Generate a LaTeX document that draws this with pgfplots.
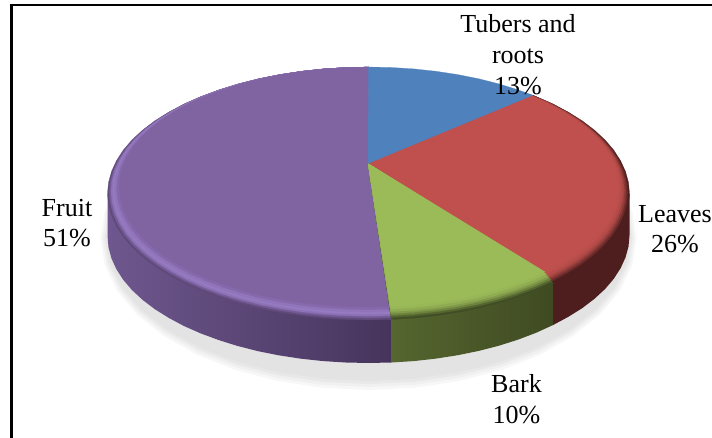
\documentclass[border=0pt]{standalone}
\usepackage{fontspec}
\setmainfont{Liberation Serif}
\usepackage{pgfplots}
\usepackage{pgfplotstable}
\pgfplotsset{compat=1.18}

% all coordinates are pixels of the picture, y pointing down
% r=1 marks a rim point, r=0 the apex of the wedge
\pgfplotstableread{
x y r
368.0 163.5 0
368.5 67.0 1
391.3 67.5 1
413.8 68.9 1
436.1 71.3 1
457.8 74.6 1
478.8 78.8 1
499.0 83.9 1
518.2 89.9 1
532.8 95.2 1
368.0 163.5 0
}\tblBlue
\pgfplotstableread{
x y r
368.0 163.5 0
532.8 95.2 1
536.3 96.6 1
553.1 104.0 1
568.4 112.2 1
582.3 120.9 1
594.5 130.2 1
605.1 140.0 1
613.8 150.2 1
620.6 160.8 1
625.5 171.5 1
628.5 182.5 1
629.5 193.5 1
628.5 204.5 1
625.5 215.5 1
620.6 226.2 1
613.8 236.8 1
605.1 247.0 1
594.5 256.8 1
582.3 266.1 1
568.4 274.8 1
553.1 283.0 1
368.0 163.5 0
}\tblRed
\pgfplotstableread{
x y r
368.0 163.5 0
553.1 283.0 1
536.3 290.4 1
518.2 297.1 1
499.0 303.1 1
478.8 308.2 1
457.8 312.4 1
436.1 315.7 1
413.8 318.1 1
391.3 319.5 1
368.0 163.5 0
}\tblGreen
\pgfplotstableread{
x y r
368.0 163.5 0
391.3 319.5 1
368.5 320.0 1
345.7 319.5 1
323.2 318.1 1
300.9 315.7 1
279.2 312.4 1
258.2 308.2 1
238.0 303.1 1
218.8 297.1 1
200.7 290.4 1
183.9 283.0 1
168.6 274.8 1
154.7 266.1 1
142.5 256.8 1
131.9 247.0 1
123.2 236.8 1
116.4 226.2 1
111.5 215.5 1
108.5 204.5 1
107.5 193.5 1
108.5 182.5 1
111.5 171.5 1
116.4 160.8 1
123.2 150.2 1
131.9 140.0 1
142.5 130.2 1
154.7 120.9 1
168.6 112.2 1
183.9 104.0 1
200.7 96.6 1
218.8 89.9 1
238.0 83.9 1
258.2 78.8 1
279.2 74.6 1
300.9 71.3 1
323.2 68.9 1
345.7 67.5 1
368.5 67.0 1
368.0 163.5 0
}\tblPurple

% outline used for the shadow
\pgfplotstableread{
x y
629.5 193.5
625.5 215.5
613.8 236.8
594.5 256.8
568.4 274.8
536.3 290.4
499.0 303.1
457.8 312.4
413.8 318.1
368.5 320.0
323.2 318.1
279.2 312.4
238.0 303.1
200.7 290.4
168.6 274.8
142.5 256.8
123.2 236.8
111.5 215.5
107.5 193.5
111.5 171.5
123.2 150.2
142.5 130.2
168.6 112.2
200.7 96.6
238.0 83.9
279.2 74.6
323.2 68.9
368.5 67.0
413.8 68.9
457.8 74.6
499.0 83.9
536.3 96.6
568.4 112.2
594.5 130.2
613.8 150.2
625.5 171.5
629.5 193.5
}\tblRim

% side walls
\pgfplotstableread{
x y
107.5 193.5
107.5 235.5
108.5 247.5
111.5 258.5
116.4 269.2
123.2 279.8
131.9 290.0
142.5 299.8
154.7 309.1
168.6 317.8
183.9 326.0
200.7 333.4
218.8 340.1
238.0 346.1
258.2 351.2
279.2 355.4
300.9 358.7
323.2 361.1
345.7 362.5
368.5 363.0
391.3 362.5
391.3 319.5
}\tblSidePurple
\pgfplotstableread{
x y
391.3 319.5
391.3 362.5
413.8 361.1
436.1 358.6
457.8 355.2
478.8 350.9
499.0 345.7
518.2 339.6
536.3 332.7
553.1 325.0
553.1 283.0
}\tblSideGreen
\pgfplotstableread{
x y
553.1 283.0
553.1 325.0
568.4 316.8
582.3 308.1
594.5 298.8
605.1 289.0
613.8 278.8
620.6 268.2
625.5 257.5
628.5 246.5
629.5 235.5
629.5 193.5
}\tblSideRed

\definecolor{pBlue}{HTML}{4F81BD}
\definecolor{pRed}{HTML}{C0504D}
\definecolor{pGreen}{HTML}{9BBB59}
\definecolor{pPurple}{HTML}{8064A2}
\definecolor{pPurpleA}{HTML}{5F4A7A}
\definecolor{pPurpleB}{HTML}{755C98}
\definecolor{pPurpleC}{HTML}{8E72B6}
\definecolor{pPurpleD}{HTML}{977BC2}
\definecolor{pPurpleE}{HTML}{9175BA}
\definecolor{pPurpleF}{HTML}{8669AC}
\definecolor{pRedA}{HTML}{4E1E1E}
\definecolor{pRedB}{HTML}{6A2B2A}
\definecolor{pRedC}{HTML}{8A3937}
\definecolor{pRedD}{HTML}{A44542}
\definecolor{pRedE}{HTML}{B54C49}
\definecolor{pRedF}{HTML}{BD4F4C}
\definecolor{pGreenA}{HTML}{414D25}
\definecolor{pGreenB}{HTML}{55652F}
\definecolor{pGreenC}{HTML}{6D823D}
\definecolor{pGreenD}{HTML}{80994A}
\definecolor{pGreenE}{HTML}{8FAC52}
\definecolor{pGreenF}{HTML}{98B757}
\definecolor{sidePurpleL}{HTML}{6E578E}
\definecolor{sidePurpleR}{HTML}{46345C}
\definecolor{sideGreenL}{HTML}{55662F}
\definecolor{sideGreenR}{HTML}{3F4A22}

% #1 table, #2 colour, #3 how far in the bevel (0 rim, 1 flat top)
\newcommand{\band}[3]{%
  \addplot[fill=#2, draw=#2, line width=0.2pt]
    table[x expr=\thisrow{x}-\thisrow{r}*(\thisrow{x}-368.5)*0.04406*#3,
          y expr=\thisrow{y}-\thisrow{r}*((\thisrow{y}-193.5)*0.05138*#3+6.5*#3)] {#1};
}
% #1 half width, #2 half height, #3 centre y, #4 colour
\newcommand{\shadow}[4]{%
  \addplot[fill=#4, draw=none]
    table[x expr=368.5+(\thisrow{x}-368.5)*#1/261,
          y expr=#3+(\thisrow{y}-193.5)*#2/126.5] {\tblRim};
}
\newcommand{\lbl}[3]{\node[anchor=base, inner sep=0pt, font=\fontsize{26}{31}\selectfont] at (axis cs:#1,#2) {#3};}

\begin{document}
\begin{tikzpicture}
\useasboundingbox (0,0) rectangle (712pt,438pt);
\begin{axis}[
  width=712pt, height=438pt, scale only axis,
  xmin=0, xmax=712, ymin=0, ymax=438, y dir=reverse,
  hide axis, no markers, clip=false,
]
  \shadow{268}{152}{238}{white!97!black}
  \shadow{266}{149}{238}{white!94!black}
  \shadow{264}{146}{238}{white!91!black}
  \shadow{262}{143}{238}{white!89!black}

  \addplot[draw=none, left color=sidePurpleL, right color=sidePurpleR] table {\tblSidePurple};
  \addplot[draw=none, left color=sideGreenL, right color=sideGreenR] table {\tblSideGreen};
  \addplot[draw=none, fill=pRedA] table {\tblSideRed};

  \band{\tblPurple}{pPurpleA}{0}
  \band{\tblPurple}{pPurpleB}{0.15}
  \band{\tblPurple}{pPurpleC}{0.3}
  \band{\tblPurple}{pPurpleD}{0.45}
  \band{\tblPurple}{pPurpleE}{0.6}
  \band{\tblPurple}{pPurpleF}{0.8}
  \band{\tblPurple}{pPurple}{1}

  \band{\tblRed}{pRedA}{0}
  \band{\tblRed}{pRedB}{0.15}
  \band{\tblRed}{pRedC}{0.3}
  \band{\tblRed}{pRedD}{0.45}
  \band{\tblRed}{pRedE}{0.6}
  \band{\tblRed}{pRedF}{0.8}
  \band{\tblRed}{pRed}{1}

  \band{\tblGreen}{pGreenA}{0}
  \band{\tblGreen}{pGreenB}{0.15}
  \band{\tblGreen}{pGreenC}{0.3}
  \band{\tblGreen}{pGreenD}{0.45}
  \band{\tblGreen}{pGreenE}{0.6}
  \band{\tblGreen}{pGreenF}{0.8}
  \band{\tblGreen}{pGreen}{1}

  \band{\tblBlue}{pBlue}{0}

  \draw[line width=2.3pt, line cap=rect] (axis cs:712,5.2) -- (axis cs:11.5,5.2) -- (axis cs:11.5,438);

  \lbl{518}{33}{Tubers and}
  \lbl{518}{64}{roots}
  \lbl{518}{95}{13\%}
  \lbl{675}{223}{Leaves}
  \lbl{675}{253}{26\%}
  \lbl{67}{216.5}{Fruit}
  \lbl{67}{247}{51\%}
  \lbl{516.5}{392}{Bark}
  \lbl{516.5}{423}{10\%}
\end{axis}
\end{tikzpicture}
\end{document}
